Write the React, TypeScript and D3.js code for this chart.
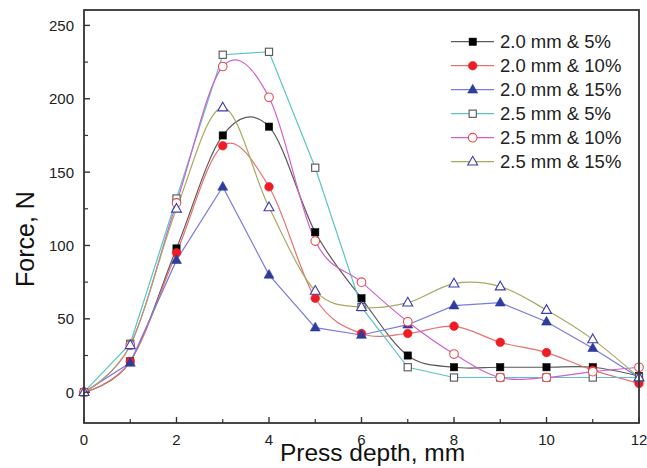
import React from "react";
import * as d3 from "d3";

const depth = [0, 1, 2, 3, 4, 5, 6, 7, 8, 9, 10, 11, 12];

const s20_5 = [0, 21, 98, 175, 181, 109, 64, 25, 17, 17, 17, 17, 11];
const s20_10 = [0, 21, 95, 168, 140, 64, 40, 40, 45, 34, 27, 15, 6];
const s20_15 = [0, 20, 90, 140, 80, 44, 39, 46, 59, 61, 48, 30, 10];
const s25_5 = [0, 33, 132, 230, 232, 153, 58, 17, 10, 10, 10, 10, 10];
const s25_10 = [0, 32, 129, 222, 201, 103, 75, 48, 26, 10, 10, 14, 17];
const s25_15 = [0, 32, 125, 194, 126, 69, 58, 61, 74, 72, 56, 36, 10];

const seriesNames = [
  "2.0 mm & 5%",
  "2.0 mm & 10%",
  "2.0 mm & 15%",
  "2.5 mm & 5%",
  "2.5 mm & 10%",
  "2.5 mm & 15%",
];
const seriesValues = [s20_5, s20_10, s20_15, s25_5, s25_10, s25_15];

const xTicks = [0, 2, 4, 6, 8, 10, 12];
const xMinor = [1, 3, 5, 7, 9, 11];
const yTicks = [0, 50, 100, 150, 200, 250];
const yMinor = [25, 75, 125, 175, 225];

type Style = {
  line: string;
  shape: "square" | "circle" | "triangle";
  fill: string;
  stroke: string;
  smooth: boolean;
};

const styles: Style[] = [
  { line: "#5a5a5a", shape: "square", fill: "#000000", stroke: "#000000", smooth: true },
  { line: "#e87070", shape: "circle", fill: "#ee1c24", stroke: "#ee1c24", smooth: true },
  { line: "#7a7ae0", shape: "triangle", fill: "#2e3d9c", stroke: "#2e3d9c", smooth: false },
  { line: "#5cc4c4", shape: "square", fill: "#ffffff", stroke: "#555555", smooth: false },
  { line: "#d060d0", shape: "circle", fill: "#ffffff", stroke: "#e84a4a", smooth: true },
  { line: "#a8a860", shape: "triangle", fill: "#ffffff", stroke: "#3b3bb0", smooth: true },
];

const FONT = "'Liberation Sans', Arial, Helvetica, sans-serif";

function Marker({ s, cx, cy }: { s: Style; cx: number; cy: number }) {
  const open = s.fill === "#ffffff";
  const sw = open ? 1.1 : 0.6;
  if (s.shape === "square") {
    const h = 3.6;
    return <rect x={cx - h} y={cy - h} width={2 * h} height={2 * h} fill={s.fill} stroke={s.stroke} strokeWidth={sw} />;
  }
  if (s.shape === "circle") {
    return <circle cx={cx} cy={cy} r={4.3} fill={s.fill} stroke={s.stroke} strokeWidth={sw} />;
  }
  const r = 5.4;
  const pts = [
    [cx, cy - r],
    [cx + r * 0.92, cy + r * 0.62],
    [cx - r * 0.92, cy + r * 0.62],
  ];
  return <polygon points={pts.map((p) => p.join(",")).join(" ")} fill={s.fill} stroke={s.stroke} strokeWidth={sw} />;
}

export default function App() {
  const W = 647;
  const H = 468;
  const left = 84;
  const right = 639;
  const top = 10;
  const bottom = 423;

  const x = d3.scaleLinear().domain([0, 12]).range([left, right]);
  const y = d3.scaleLinear().domain([-21, 260.5]).range([bottom, top]);

  const lineSmooth = d3
    .line<number>()
    .x((_, i) => x(depth[i]))
    .y((d) => y(d))
    .curve(d3.curveCatmullRom.alpha(0));
  const lineStraight = d3
    .line<number>()
    .x((_, i) => x(depth[i]))
    .y((d) => y(d))
    .curve(d3.curveLinear);

  const legX0 = 451;
  const legX1 = 494;
  const legMark = 472.7;
  const legText = 500;
  const legY0 = 41.7;
  const legDy = 24;

  return (
    <svg
      width={W}
      height={H}
      style={{ position: "fixed", left: 0, top: 0, background: "#fff" }}
      fontFamily={FONT}
    >
      <rect x={0} y={0} width={W} height={H} fill="#fff" />
      <defs>
        <clipPath id="plotclip">
          <rect x={left} y={top} width={right - left} height={bottom - top} />
        </clipPath>
      </defs>

      {/* series lines */}
      <g clipPath="url(#plotclip)">
        {seriesValues.map((vals, si) => (
          <path
            key={si}
            d={(styles[si].smooth ? lineSmooth : lineStraight)(vals) || ""}
            fill="none"
            stroke={styles[si].line}
            strokeWidth={1.2}
          />
        ))}
      </g>

      {/* markers */}
      {seriesValues.map((vals, si) => (
        <g key={si}>
          {vals.map((v, i) => (
            <Marker key={i} s={styles[si]} cx={x(depth[i])} cy={y(v)} />
          ))}
        </g>
      ))}

      {/* frame */}
      <rect x={left} y={top} width={right - left} height={bottom - top} fill="none" stroke="#333" strokeWidth={1.8} />

      {/* x ticks */}
      {xTicks.map((t) => (
        <g key={"xt" + t}>
          <line x1={x(t)} x2={x(t)} y1={bottom} y2={bottom - 6} stroke="#333" strokeWidth={1.4} />
          <text x={x(t)} y={445} textAnchor="middle" fontSize={15} fill="#222">
            {t}
          </text>
        </g>
      ))}
      {xMinor.map((t) => (
        <line key={"xm" + t} x1={x(t)} x2={x(t)} y1={bottom} y2={bottom - 4} stroke="#333" strokeWidth={1.2} />
      ))}

      {/* y ticks */}
      {yTicks.map((t) => (
        <g key={"yt" + t}>
          <line x1={left} x2={left + 6} y1={y(t)} y2={y(t)} stroke="#333" strokeWidth={1.4} />
          <text x={74} y={y(t)} dy="0.36em" textAnchor="end" fontSize={15} fill="#222">
            {t}
          </text>
        </g>
      ))}
      {yMinor.map((t) => (
        <line key={"ym" + t} x1={left} x2={left + 4} y1={y(t)} y2={y(t)} stroke="#333" strokeWidth={1.2} />
      ))}

      {/* axis titles */}
      <text x={(280 + 465) / 2} y={461} textAnchor="middle" fontSize={24.5} fill="#111">
        Press depth, mm
      </text>
      <text
        transform={`translate(34, 239) rotate(-90)`}
        textAnchor="middle"
        fontSize={25}
        fill="#111"
      >
        Force, N
      </text>

      {/* legend */}
      {seriesNames.map((name, si) => {
        const cy = legY0 + si * legDy;
        return (
          <g key={"lg" + si}>
            <line x1={legX0} x2={legX1} y1={cy} y2={cy} stroke={styles[si].line} strokeWidth={1.2} />
            <Marker s={styles[si]} cx={legMark} cy={cy} />
            <text x={legText} y={cy} dy="0.36em" fontSize={18.5} fill="#222">
              {name}
            </text>
          </g>
        );
      })}
    </svg>
  );
}
